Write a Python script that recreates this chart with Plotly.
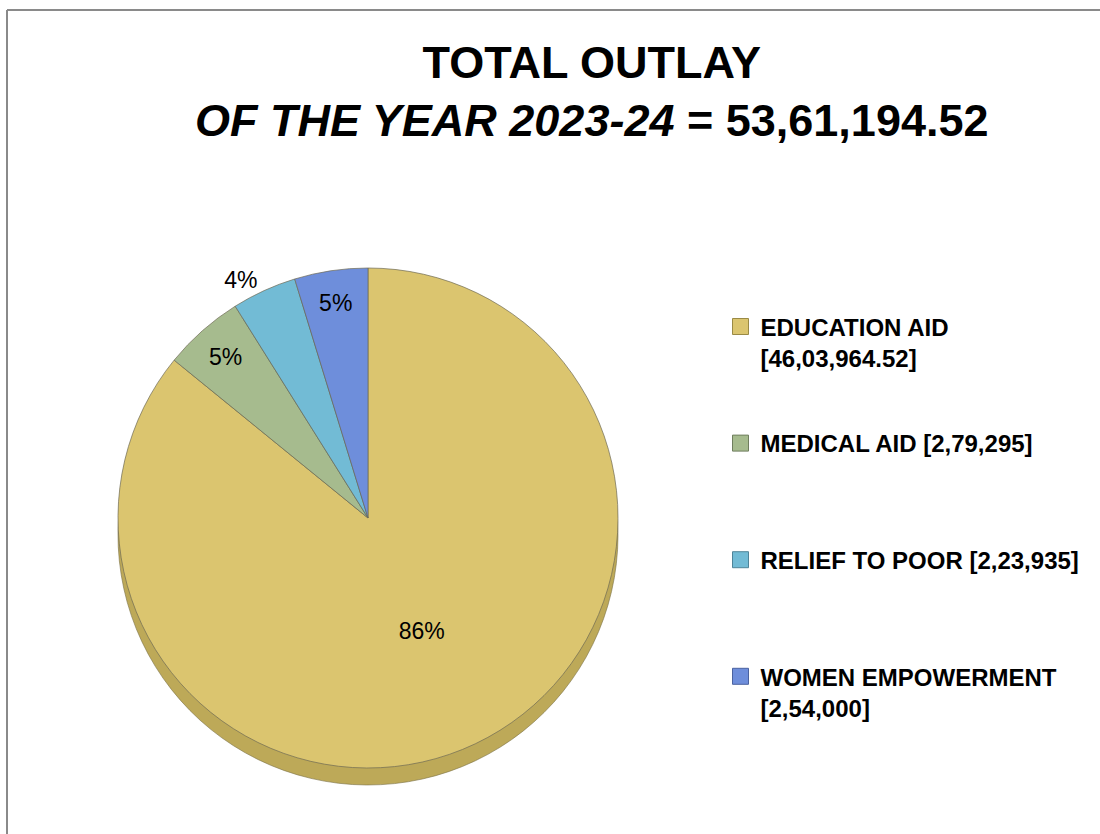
import plotly.graph_objects as go

categories = ["EDUCATION AID", "MEDICAL AID", "RELIEF TO POOR", "WOMEN EMPOWERMENT"]
amount_labels = ["[46,03,964.52]", "[2,79,295]", "[2,23,935]", "[2,54,000]"]
values = [4603964.52, 279295, 223935, 254000]
colors = ["#DBC56F", "#A6BB8E", "#72BBD5", "#6E8EDB"]
border_colors = ["#9A8A45", "#6F7E5E", "#4E8499", "#4A62A0"]
edge_colors = ["#BDA958", "#85976F", "#5896AC", "#5670B0"]

# legend text: long names wrap their amount onto a second line; blank lines pad spacing
legend_text = [
    "<b>EDUCATION AID<br>[46,03,964.52]</b><br> ",
    "<b>MEDICAL AID [2,79,295]</b><br> <br> ",
    "<b>RELIEF TO POOR [2,23,935]</b><br> <br> ",
    "<b>WOMEN EMPOWERMENT<br>[2,54,000]</b>",
]

W, H = 1100, 834
cx, cy, r = 368, 518, 250
depth = 17

def dom(cx, cy, r):
    return dict(x=[(cx - r) / W, (cx + r) / W], y=[(H - cy - r) / H, (H - cy + r) / H])

fig = go.Figure()

# 3D edge of the pie (same data, shifted down, darker)
fig.add_trace(go.Pie(
    labels=categories, values=values, sort=False, direction="clockwise", rotation=0,
    marker=dict(colors=edge_colors, line=dict(color="#7a7045", width=0.6)),
    textinfo="none", showlegend=False, hoverinfo="skip",
    domain=dom(cx, cy + depth, r),
))

fig.add_trace(go.Pie(
    labels=categories, values=values, sort=False, direction="clockwise", rotation=0,
    marker=dict(colors=colors, line=dict(color="#6f6a55", width=0.7)),
    textinfo="percent", texttemplate="%{percent:.0%}",
    textposition=["inside", "inside", "outside", "inside"],
    textfont=dict(family="Liberation Sans, Arial, sans-serif", size=23, color="black"),
    insidetextorientation="horizontal",
    showlegend=False,
    customdata=amount_labels,
    hovertemplate="%{label} %{customdata}<extra></extra>",
    domain=dom(cx, cy, r),
))

# legend entries (one per category)
for i, name in enumerate(categories):
    fig.add_trace(go.Scatter(
        x=[None], y=[None], mode="markers", name=legend_text[i],
        legendgroup=name,
        marker=dict(symbol="square", size=16, color=colors[i],
                    line=dict(color=border_colors[i], width=1)),
        hoverinfo="skip",
    ))

fig.update_layout(
    width=W, height=H,
    margin=dict(l=0, r=0, t=0, b=0),
    paper_bgcolor="white",
    plot_bgcolor="rgba(0,0,0,0)",
    xaxis=dict(visible=False),
    yaxis=dict(visible=False),
    title=dict(
        text="<b>TOTAL OUTLAY<br><i>OF THE YEAR 2023-24</i> = 53,61,194.52</b>",
        x=0.538, xanchor="center", y=0.907, yanchor="top",
        font=dict(family="Liberation Sans Narrow, Arial Narrow, Liberation Sans, sans-serif", size=45, color="black"),
    ),
    legend=dict(
        x=0.655, y=0.635, xanchor="left", yanchor="top",
        valign="top", traceorder="grouped", itemsizing="trace",
        tracegroupgap=20,
        font=dict(family="Liberation Sans, Arial, sans-serif", size=24, color="black"),
        bgcolor="rgba(0,0,0,0)",
    ),
    shapes=[
        dict(type="line", xref="paper", yref="paper", x0=7 / W, x1=1.0, y0=1 - 10 / H, y1=1 - 10 / H,
             line=dict(color="#8a8a8a", width=2)),
        dict(type="line", xref="paper", yref="paper", x0=7 / W, x1=7 / W, y0=0, y1=1 - 10 / H,
             line=dict(color="#8a8a8a", width=2)),
    ],
)

fig.write_html("out.html", config={"displayModeBar": False},
               post_script="document.body.style.margin='0';")
